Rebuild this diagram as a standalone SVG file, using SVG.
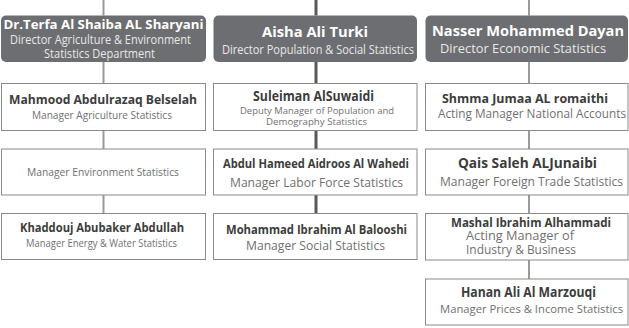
<svg xmlns="http://www.w3.org/2000/svg" width="629" height="328" viewBox="0 0 629 328">
<style>
.dir{fill:#6d6e71}
.box{fill:#fff;stroke:#8a8a8a;stroke-width:1}
.c{stroke:#9a9a9a;stroke-width:2;fill:none}
.cm{stroke:#58595b;stroke-width:3;fill:none}
text{font-family:"Open Sans","Noto Sans","DejaVu Sans",sans-serif;text-anchor:middle}
.dn{fill:#fff;font-weight:bold}
.dt{fill:#e8e8e8}
.n{fill:#3c3c3c;font-weight:bold}
.t{fill:#707070}
</style>
<rect width="629" height="328" fill="#fff"/>
<g id="connectors">
<path class="c" d="M103.5 0V15.5M103.5 62V83.5M103.5 130.5V149M103.5 195V213.5"/>
<path class="cm" d="M316 0V15.5M316 62V83.5M316 130.5V149M316 195V213.5"/>
<path class="c" d="M529 0V15.5M529 62V83.5M529 130.5V149M529 195V213.5M529 260V279"/>
</g>
<g id="dir-terfa">
<rect class="dir" x="1" y="15.5" width="205" height="46.5" rx="5"/>
<text class="dn" x="103.5" y="29" font-size="13" textLength="200" lengthAdjust="spacingAndGlyphs">Dr.Terfa Al Shaiba AL Sharyani</text>
<text class="dt" x="100.5" y="44" font-size="12" textLength="181" lengthAdjust="spacingAndGlyphs">Director Agriculture &amp; Environment</text>
<text class="dt" x="99.5" y="58" font-size="12" textLength="111" lengthAdjust="spacingAndGlyphs">Statistics Department</text>
</g>
<g id="dir-aisha">
<rect class="dir" x="213.5" y="15.5" width="203.5" height="46.5" rx="5"/>
<text class="dn" x="315" y="37" font-size="14.5" textLength="106" lengthAdjust="spacingAndGlyphs">Aisha Ali  Turki</text>
<text class="dt" x="318" y="54" font-size="12.5" textLength="192" lengthAdjust="spacingAndGlyphs">Director Population &amp; Social Statistics</text>
</g>
<g id="dir-nasser">
<rect class="dir" x="425.5" y="15.5" width="202.5" height="46.5" rx="5"/>
<text class="dn" x="528" y="36" font-size="14.5" textLength="192" lengthAdjust="spacingAndGlyphs">Nasser Mohammed Dayan</text>
<text class="dt" x="523" y="53" font-size="13" textLength="166" lengthAdjust="spacingAndGlyphs">Director Economic Statistics</text>
</g>
<g id="mahmood">
<rect class="box" x="1.5" y="83.5" width="204" height="47"/>
<text class="n" x="103" y="104" font-size="12.5" textLength="188" lengthAdjust="spacingAndGlyphs">Mahmood Abdulrazaq Belselah</text>
<text class="t" x="102" y="119" font-size="10.5" textLength="140" lengthAdjust="spacingAndGlyphs">Manager Agriculture Statistics</text>
</g>
<g id="env">
<rect class="box" x="1.5" y="149" width="204" height="46"/>
<text class="t" x="103" y="176" font-size="11" textLength="152" lengthAdjust="spacingAndGlyphs">Manager Environment Statistics</text>
</g>
<g id="khaddouj">
<rect class="box" x="1.5" y="213.5" width="204" height="46"/>
<text class="n" x="102" y="232" font-size="12.5" textLength="164" lengthAdjust="spacingAndGlyphs">Khaddouj Abubaker Abdullah</text>
<text class="t" x="101.5" y="247" font-size="10.5" textLength="151" lengthAdjust="spacingAndGlyphs">Manager Energy &amp; Water Statistics</text>
</g>
<g id="suleiman">
<rect class="box" x="213.5" y="83.5" width="203.5" height="47"/>
<text class="n" x="313.5" y="101" font-size="13.5" textLength="121" lengthAdjust="spacingAndGlyphs">Suleiman AlSuwaidi</text>
<text class="t" x="317" y="114" font-size="9" textLength="154" lengthAdjust="spacingAndGlyphs">Deputy Manager of Population and</text>
<text class="t" x="316.5" y="124.5" font-size="9" textLength="101" lengthAdjust="spacingAndGlyphs">Demography  Statistics</text>
</g>
<g id="abdul">
<rect class="box" x="213.5" y="149" width="203.5" height="46"/>
<text class="n" x="316" y="168" font-size="12.5" textLength="186" lengthAdjust="spacingAndGlyphs">Abdul Hameed Aidroos Al Wahedi</text>
<text class="t" x="316.5" y="187" font-size="13" textLength="173" lengthAdjust="spacingAndGlyphs">Manager Labor Force Statistics</text>
</g>
<g id="mohammad">
<rect class="box" x="213.5" y="213.5" width="203.5" height="46"/>
<text class="n" x="316.5" y="234" font-size="13" textLength="181" lengthAdjust="spacingAndGlyphs">Mohammad Ibrahim Al Balooshi</text>
<text class="t" x="315.5" y="250" font-size="13" textLength="139" lengthAdjust="spacingAndGlyphs">Manager Social Statistics</text>
</g>
<g id="shmma">
<rect class="box" x="425.5" y="83.5" width="202.5" height="47"/>
<text class="n" x="525" y="103" font-size="13" textLength="166" lengthAdjust="spacingAndGlyphs">Shmma Jumaa AL romaithi</text>
<text class="t" x="532" y="118" font-size="12" textLength="188" lengthAdjust="spacingAndGlyphs">Acting Manager National Accounts</text>
</g>
<g id="qais">
<rect class="box" x="425.5" y="149" width="202.5" height="46"/>
<text class="n" x="527.5" y="168" font-size="13.5" textLength="139" lengthAdjust="spacingAndGlyphs">Qais Saleh ALJunaibi</text>
<text class="t" x="531.5" y="186" font-size="12" textLength="183" lengthAdjust="spacingAndGlyphs">Manager Foreign Trade Statistics</text>
</g>
<g id="mashal">
<rect class="box" x="425.5" y="213.5" width="202.5" height="46.5"/>
<text class="n" x="531" y="226.5" font-size="12" textLength="160" lengthAdjust="spacingAndGlyphs">Mashal Ibrahim Alhammadi</text>
<text class="t" x="466" y="240" font-size="12" textLength="108" lengthAdjust="spacingAndGlyphs" style="text-anchor:start">Acting Manager of</text>
<text class="t" x="466" y="253.5" font-size="12" textLength="110" lengthAdjust="spacingAndGlyphs" style="text-anchor:start">Industry &amp; Business</text>
</g>
<g id="hanan">
<rect class="box" x="425.5" y="279" width="202.5" height="46"/>
<text class="n" x="528.5" y="297" font-size="13.5" textLength="135" lengthAdjust="spacingAndGlyphs">Hanan Ali Al Marzouqi</text>
<text class="t" x="531.5" y="313" font-size="11.5" textLength="183" lengthAdjust="spacingAndGlyphs">Manager Prices &amp; Income Statistics</text>
</g>
</svg>
